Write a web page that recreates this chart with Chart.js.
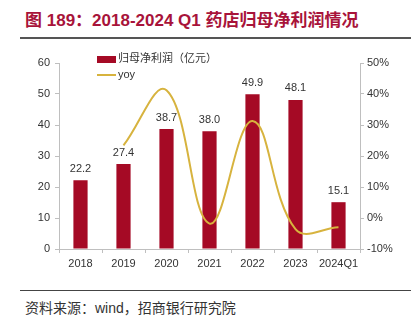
<!DOCTYPE html>
<html>
<head>
<meta charset="utf-8">
<script src="https://cdn.jsdelivr.net/npm/chart.js@4/dist/chart.umd.min.js"></script>
<style>
    body { margin: 0; width: 411px; height: 322px; background: #fff; position: relative; overflow: hidden; }
    .title {
        position: absolute; left: 25px; top: 6px;
        font: bold 17px "Liberation Sans", "Noto Sans CJK SC", sans-serif;
        color: #A8133A; white-space: nowrap;
    }
    .rule-top { position: absolute; left: 20px; right: 0; top: 37px; height: 2px; background: #555; }
    .rule-bottom { position: absolute; left: 20px; right: 0; top: 290px; height: 1px; background: #444; }
    .source {
        position: absolute; left: 25px; top: 297px;
        font: 14px "Liberation Sans", "Noto Sans CJK SC", sans-serif; color: #333; white-space: nowrap;
    }
    .chart-box { position: absolute; left: 0; top: 40px; width: 411px; height: 250px; }
</style>
</head>
<body>
<div class="title">图 189：2018-2024 Q1 药店归母净利润情况</div>
<div class="rule-top"></div>
<div class="chart-box"><canvas id="profitChart"></canvas></div>
<div class="rule-bottom"></div>
<div class="source">资料来源：wind，招商银行研究院</div>
<script>
const years = ['2018', '2019', '2020', '2021', '2022', '2023', '2024Q1'];
const netProfit = [22.2, 27.4, 38.7, 38.0, 49.9, 48.1, 15.1];
const yoy = [null, 23.4, 41.2, -1.8, 31.3, -3.6, -3.0];
const leftTicks = [0, 10, 20, 30, 40, 50, 60];
const rightTicks = [-10, 0, 10, 20, 30, 40, 50];

const barColor = '#A50A25';
const lineColor = '#D7B33E';
const textColor = '#333';
const axisColor = '#BFBFBF';
const font = { family: '"Liberation Sans", Arial, sans-serif', size: 11 };

// value labels above each bar (bars are dataset 1)
const barLabels = {
    id: 'barLabels',
    afterDatasetsDraw(chart) {
        const ctx = chart.ctx;
        const meta = chart.getDatasetMeta(1);
        ctx.save();
        ctx.font = '11px "Liberation Sans", Arial, sans-serif';
        ctx.fillStyle = textColor;
        ctx.textAlign = 'center';
        ctx.textBaseline = 'bottom';
        meta.data.forEach((bar, i) => {
            ctx.fillText(netProfit[i].toFixed(1), bar.x, bar.y - 6);
        });
        ctx.restore();
    }
};

// legend stacked in the upper left of the plot
const cornerLegend = {
    id: 'cornerLegend',
    afterDraw(chart) {
        const ctx = chart.ctx;
        const x = chart.chartArea.left + 38;
        const y = chart.chartArea.top - 4;
        ctx.save();
        ctx.font = '11px "Liberation Sans", "Noto Sans CJK SC", sans-serif';
        ctx.textBaseline = 'middle';
        ctx.fillStyle = barColor;
        ctx.fillRect(x, y - 3, 19, 7);
        ctx.fillStyle = textColor;
        ctx.fillText('归母净利润（亿元）', x + 21, y);
        ctx.strokeStyle = lineColor;
        ctx.lineWidth = 2;
        ctx.beginPath();
        ctx.moveTo(x, y + 16);
        ctx.lineTo(x + 19, y + 16);
        ctx.stroke();
        ctx.fillText('yoy', x + 21, y + 16);
        ctx.restore();
    }
};

new Chart(document.getElementById('profitChart'), {
    data: {
        labels: years,
        datasets: [
            {
                type: 'line',
                label: 'yoy',
                data: yoy,
                yAxisID: 'y1',
                borderColor: lineColor,
                borderWidth: 2,
                pointRadius: 0,
                tension: 0.4,
                order: 0
            },
            {
                type: 'bar',
                label: '归母净利润（亿元）',
                data: netProfit,
                yAxisID: 'y',
                backgroundColor: barColor,
                categoryPercentage: 1,
                barPercentage: 0.33,
                order: 1
            }
        ]
    },
    options: {
        responsive: true,
        maintainAspectRatio: false,
        animation: false,
        layout: { padding: { top: 23, left: 0, right: 0, bottom: 0 } },
        plugins: { legend: { display: false }, tooltip: { enabled: false } },
        scales: {
            x: {
                grid: { drawOnChartArea: false, color: axisColor, tickLength: 4, offset: true },
                border: { color: axisColor },
                ticks: { color: textColor, font: font, padding: 4, maxRotation: 0 },
                afterFit(scale) { scale.height = 41; }
            },
            y: {
                position: 'left',
                min: 0, max: 60,
                afterBuildTicks(scale) { scale.ticks = leftTicks.map(v => ({ value: v })); },
                grid: { drawOnChartArea: false, color: axisColor, tickLength: 4 },
                border: { color: axisColor },
                ticks: { color: textColor, font: font, padding: 5 },
                afterFit(scale) { scale.width = 59; }
            },
            y1: {
                position: 'right',
                min: -10, max: 50,
                afterBuildTicks(scale) { scale.ticks = rightTicks.map(v => ({ value: v })); },
                grid: { drawOnChartArea: false, color: axisColor, tickLength: 4 },
                border: { color: axisColor },
                ticks: { color: textColor, font: font, padding: 3, callback: v => v + '%' },
                afterFit(scale) { scale.width = 51; }
            }
        }
    },
    plugins: [barLabels, cornerLegend]
});
</script>
</body>
</html>
